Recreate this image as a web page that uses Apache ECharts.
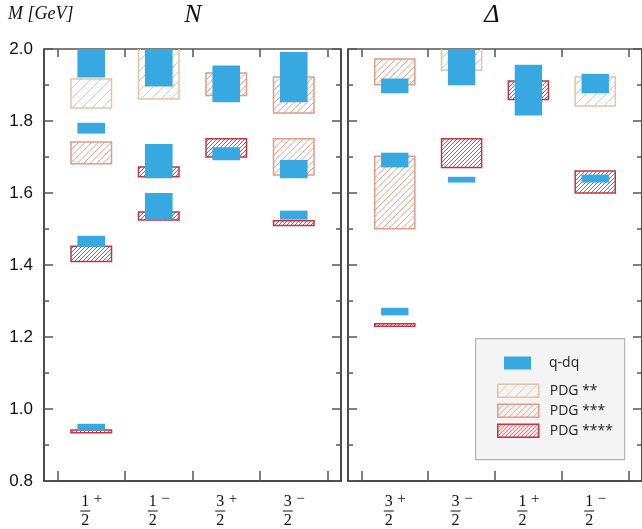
<!DOCTYPE html>
<html><head><meta charset="utf-8">
<script src="https://cdn.jsdelivr.net/npm/echarts@6/dist/echarts.min.js"></script>
<style>html,body{margin:0;padding:0;background:#fff}#c{width:642px;height:529px}</style>
</head><body><div id="c"></div>
<script>
// ---- data ----
const nLabels = ['1/2+', '1/2-', '3/2+', '3/2-'];
const dLabels = ['3/2+', '3/2-', '1/2+', '1/2-'];
const yTicks = [0.8, 1.0, 1.2, 1.4, 1.6, 1.8, 2.0];

// [category position, low mass, high mass] in GeV
const nQdq = [[1, 1.921, 2.05], [1, 1.765, 1.795], [1, 1.450, 1.481], [1, 0.940, 0.959],
              [2, 1.896, 2.05], [2, 1.641, 1.736], [2, 1.526, 1.600],
              [3, 1.852, 1.954], [3, 1.691, 1.727],
              [4, 1.852, 1.992], [4, 1.641, 1.692], [4, 1.526, 1.551]];
const nPdg2 = [[1, 1.836, 1.917], [2, 1.861, 2.02]];
const nPdg3 = [[1, 1.681, 1.742], [3, 1.871, 1.933], [4, 1.822, 1.922], [4, 1.650, 1.751]];
const nPdg4 = [[1, 1.410, 1.452], [1, 0.934, 0.9415], [2, 1.645, 1.672], [2, 1.525, 1.547],
               [3, 1.700, 1.751], [4, 1.510, 1.523]];

const dQdq = [[1, 1.877, 1.918], [1, 1.671, 1.712], [1, 1.260, 1.281],
              [2, 1.899, 2.05], [2, 1.629, 1.645],
              [3, 1.815, 1.956],
              [4, 1.877, 1.931], [4, 1.629, 1.651]];
const dPdg2 = [[2, 1.941, 2.02], [4, 1.842, 1.922]];
const dPdg3 = [[1, 1.901, 1.972], [1, 1.501, 1.702]];
const dPdg4 = [[1, 1.230, 1.237], [2, 1.671, 1.751], [3, 1.860, 1.911], [4, 1.600, 1.661]];

// ---- styles ----
const BLUE = '#38a9e0';
const C2 = '#e6c2a6', C3 = '#e09c86', C4 = '#c8323f';
const H2 = '#e8c6aa', H3 = '#e4a08a', H4 = '#dc4656';
const HATCH = { 2: [H2, C2, 10], 3: [H3, C3, 6.5], 4: [H4, C4, 4] };

function hatchPattern(color, s) {
  const cv = document.createElement('canvas');
  cv.width = s; cv.height = s;
  const g = cv.getContext('2d');
  g.strokeStyle = color; g.lineWidth = 1;
  g.beginPath();
  g.moveTo(-1, 1); g.lineTo(1, -1);
  g.moveTo(0, s); g.lineTo(s, 0);
  g.moveTo(s - 1, s + 1); g.lineTo(s + 1, s - 1);
  g.stroke();
  return { image: cv, repeat: 'repeat' };
}

function hatchLines(x0, y0, x1, y1, s, color) {
  const out = [];
  const cStart = Math.ceil((x0 + y0) / s) * s;
  for (let c = cStart; c <= x1 + y1; c += s) {
    const xa = Math.max(x0, c - y1), xb = Math.min(x1, c - y0);
    if (xb > xa) out.push({ type: 'line', shape: { x1: xa, y1: c - xa, x2: xb, y2: c - xb },
                            style: { stroke: color, lineWidth: 1 } });
  }
  return out;
}

function boxRender(halfW, kind) {
  return function (params, api) {
    const x = api.value(0), lo = api.value(1), hi = api.value(2);
    const a = api.coord([x - halfW, hi]);
    const b = api.coord([x + halfW, lo]);
    const shape = { x: a[0], y: a[1], width: b[0] - a[0], height: b[1] - a[1] };
    if (kind === 'q') return { type: 'rect', shape: shape, style: { fill: BLUE } };
    const h = HATCH[kind];
    const kids = hatchLines(a[0], a[1], b[0], b[1], h[2], h[0]);
    kids.push({ type: 'rect', shape: shape, style: { fill: null, stroke: h[1], lineWidth: 1.5 } });
    return { type: 'group', children: kids };
  };
}
function series(name, data, gi, kind) {
  const half = kind === 'q' ? 0.205 : 0.3;
  const z = kind === 'q' ? 4 : (kind === 4 ? 3 : 2);
  return { type: 'custom', name: name, xAxisIndex: gi * 2, yAxisIndex: gi * 2, data: data,
           renderItem: boxRender(half, kind), clip: true, z: z, encode: { x: 0, y: [1, 2] }, silent: true };
}

function fracLabel(lbl) {
  const m = lbl.match(/(\d)\/(\d)([+-])/);
  const sgn = m[3] === '+' ? '+' : '\u2212';
  return '{num|' + m[1] + '}{sup|' + sgn + '}\n{bar|}{sp|}\n{den|' + m[2] + '}{sp|}';
}
const fracRich = {
  num: { fontFamily: 'Liberation Serif', fontSize: 16, color: '#111', width: 10, align: 'center', lineHeight: 15 },
  sup: { fontFamily: 'Liberation Serif', fontSize: 15, color: '#111', width: 12, align: 'right', lineHeight: 15, padding: [0, 0, 4, 0] },
  bar: { width: 10, height: 1, backgroundColor: '#111', lineHeight: 4 },
  sp: { width: 12, lineHeight: 4 },
  den: { fontFamily: 'Liberation Serif', fontSize: 16, color: '#111', width: 10, align: 'center', lineHeight: 15 }
};

const axisLineStyle = { color: '#111', width: 1.5 };
const tickStyle = { color: '#555', width: 1.5 };
const boundaries = [0.5, 1.5, 2.5, 3.5, 4.5];
const centers = [1, 2, 3, 4];

function xAxes(gi, labels) {
  return [
    { type: 'value', gridIndex: gi, min: 0.3, max: 4.7, position: 'bottom',
      axisLine: { show: true, lineStyle: axisLineStyle },
      axisTick: { show: true, inside: true, length: 10, customValues: boundaries, lineStyle: tickStyle },
      axisLabel: { show: true, customValues: centers, margin: 13,
                   formatter: v => fracLabel(labels[Math.round(v) - 1]), rich: fracRich },
      splitLine: { show: false } },
    { type: 'value', gridIndex: gi, min: 0.3, max: 4.7, position: 'top',
      axisLine: { show: true, lineStyle: { color: '#555', width: 1.5 } },
      axisTick: { show: true, inside: true, length: 8, customValues: boundaries, lineStyle: tickStyle },
      axisLabel: { show: false }, splitLine: { show: false } }
  ];
}
function yAxes(gi, showLabels) {
  const base = { type: 'value', gridIndex: gi, min: yTicks[0], max: yTicks[yTicks.length - 1], interval: 0.2,
    axisLine: { show: true, lineStyle: axisLineStyle },
    axisTick: { show: true, inside: true, length: 9, lineStyle: tickStyle },
    minorTick: { show: true, splitNumber: 2, length: 5, lineStyle: tickStyle },
    splitLine: { show: false } };
  return [
    Object.assign({}, base, { position: 'left',
      axisLabel: { show: showLabels, fontFamily: 'Liberation Sans', fontSize: 17, color: '#111', margin: 11,
                   formatter: v => v.toFixed(1) } }),
    Object.assign({}, base, { position: 'right', axisLabel: { show: false } })
  ];
}

const legendText = { fontFamily: 'Open Sans', fontSize: 14, color: '#222', lineHeight: 13 };
function legend(name, left, top, w, pad, itemStyle) {
  return { left: left, top: top, padding: 0, itemWidth: w, itemHeight: 13, selectedMode: false, z: 10,
           textStyle: Object.assign({}, legendText, { padding: [0, 0, 0, pad] }),
           data: [{ name: name, icon: 'rect', itemStyle: itemStyle }] };
}

const option = {
  backgroundColor: '#fff',
  animation: false,
  title: [
    { text: 'M [GeV]', left: 8, top: 5, padding: 0,
      textStyle: { fontFamily: 'Liberation Serif', fontStyle: 'italic', fontWeight: 'normal', fontSize: 18, color: '#111' } },
    { text: 'N', left: 193, top: 2, padding: 0, textAlign: 'center',
      textStyle: { fontFamily: 'Liberation Serif', fontStyle: 'italic', fontWeight: 'normal', fontSize: 26, color: '#111' } },
    { text: '\u0394', left: 492, top: 2, padding: 0, textAlign: 'center',
      textStyle: { fontFamily: 'Liberation Serif', fontStyle: 'italic', fontWeight: 'normal', fontSize: 26, color: '#111' } }
  ],
  grid: [
    { left: 44, top: 49, width: 297, height: 432 },
    { left: 348, top: 49, width: 298, height: 432 }
  ],
  xAxis: xAxes(0, nLabels).concat(xAxes(1, dLabels)),
  yAxis: yAxes(0, true).concat(yAxes(1, false)),
  graphic: [{ type: 'rect', left: 475, top: 338, z: 5,
              shape: { width: 149, height: 121 }, style: { fill: '#f4f4f4', stroke: '#b4b4b4', lineWidth: 1.2 } }],
  legend: [
    legend('q-dq', 504, 356, 27, 13, { color: BLUE, borderWidth: 0 }),
    legend('PDG **', 497, 383.5, 41, 6, { color: hatchPattern(H2, 10), borderColor: C2, borderWidth: 1.5 }),
    legend('PDG ***', 497, 403.5, 41, 6, { color: hatchPattern(H3, 6), borderColor: C3, borderWidth: 1.5 }),
    legend('PDG ****', 497, 423.5, 41, 6, { color: hatchPattern(H4, 4), borderColor: C4, borderWidth: 1.5 })
  ],
  series: [
    series('PDG **', nPdg2, 0, 2), series('PDG ***', nPdg3, 0, 3), series('PDG ****', nPdg4, 0, 4), series('q-dq', nQdq, 0, 'q'),
    series('PDG **', dPdg2, 1, 2), series('PDG ***', dPdg3, 1, 3), series('PDG ****', dPdg4, 1, 4), series('q-dq', dQdq, 1, 'q')
  ]
};
echarts.init(document.getElementById('c'), null, { renderer: 'canvas' }).setOption(option);
</script></body></html>
